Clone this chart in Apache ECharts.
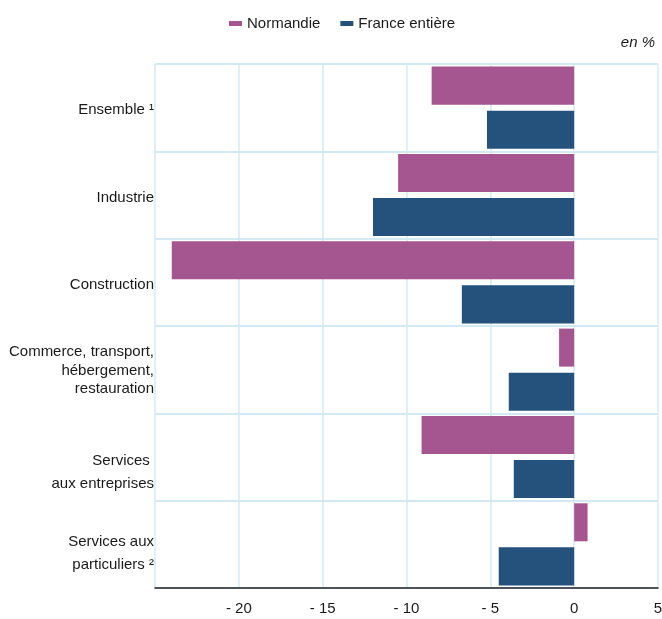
<!DOCTYPE html>
<html>
<head>
<meta charset="utf-8">
<script src="https://cdn.jsdelivr.net/npm/echarts@6/dist/echarts.min.js"></script>
<style>
  html, body { margin: 0; padding: 0; background: #fff; }
  #main { width: 662px; height: 619px; }
</style>
</head>
<body>
<div id="main"></div>
<script>
  // données
  const categories = [
    'Ensemble ¹',
    'Industrie',
    'Construction',
    'Commerce, transport,\nhébergement,\nrestauration',
    'Services \naux entreprises',
    'Services aux\nparticuliers ²'
  ];
  const normandie = [-8.5, -10.5, -24.0, -0.9, -9.1, 0.8];
  const france = [-5.2, -12.0, -6.7, -3.9, -3.6, -4.5];
  const xTicks = [-25, -20, -15, -10, -5, 0, 5];

  const myChart = echarts.init(document.getElementById('main'));
  const font = '"Liberation Sans", Arial, sans-serif';
  const gridColor = '#d3eaf4';

  // décalage vertical des libellés (comme sur l'original)
  const spacer = [5, 5, 5, 2, 30, 18];
  const lineStyleName = ['a', 'a', 'a', 'a', 'b', 'b'];

  const option = {
    animation: false,
    textStyle: { fontFamily: font },
    legend: {
      data: ['Normandie', 'France entière'],
      left: 224,
      top: 11,
      icon: 'rect',
      itemWidth: 13,
      itemHeight: 5,
      itemGap: 20,
      textStyle: { fontSize: 15, color: '#1a1a1a', fontFamily: font }
    },
    graphic: [{
      type: 'text',
      right: 7,
      top: 35,
      style: { text: 'en %', fontSize: 15, fontStyle: 'italic', fill: '#1a1a1a', fontFamily: font }
    }],
    grid: { left: 155, right: 4, top: 64, bottom: 31, containLabel: false, outerBoundsMode: 'none' },
    xAxis: {
      type: 'value',
      min: xTicks[0],
      max: xTicks[xTicks.length - 1],
      interval: 5,
      axisLine: { show: true, onZero: false, lineStyle: { color: '#222', width: 1.5 } },
      axisTick: { show: false },
      axisLabel: {
        fontSize: 15, color: '#1a1a1a', margin: 13, fontFamily: font,
        formatter: function (v) {
          if (v === xTicks[0]) return '';
          return v < 0 ? '- ' + Math.abs(v) : String(v);
        }
      },
      splitLine: { show: true, lineStyle: { color: gridColor, width: 1.5 } }
    },
    yAxis: {
      type: 'category',
      data: categories,
      inverse: true,
      axisLine: { show: false },
      axisTick: { show: false },
      axisLabel: {
        fontSize: 15, color: '#1a1a1a', margin: 1, fontFamily: font, align: 'right',
        formatter: function (value, idx) {
          const st = lineStyleName[idx];
          const lines = value.split('\n').map(function (l) { return '{' + st + '|' + l + '}'; });
          return '{s' + idx + '| }\n' + lines.join('\n');
        },
        rich: {
          a: { fontSize: 15, lineHeight: 18.5, color: '#1a1a1a', fontFamily: font },
          b: { fontSize: 15, lineHeight: 23, color: '#1a1a1a', fontFamily: font },
          s0: { fontSize: 1, lineHeight: spacer[0], height: spacer[0] },
          s1: { fontSize: 1, lineHeight: spacer[1], height: spacer[1] },
          s2: { fontSize: 1, lineHeight: spacer[2], height: spacer[2] },
          s3: { fontSize: 1, lineHeight: spacer[3], height: spacer[3] },
          s4: { fontSize: 1, lineHeight: spacer[4], height: spacer[4] },
          s5: { fontSize: 1, lineHeight: spacer[5], height: spacer[5] }
        }
      },
      splitLine: { show: true, lineStyle: { color: gridColor, width: 2 } }
    },
    series: [
      {
        name: 'Normandie',
        type: 'bar',
        data: normandie,
        itemStyle: { color: '#a5558f' },
        barGap: '16%',
        barCategoryGap: '6%'
      },
      {
        name: 'France entière',
        type: 'bar',
        data: france,
        itemStyle: { color: '#25527d' }
      }
    ]
  };

  myChart.setOption(option);
</script>
</body>
</html>
